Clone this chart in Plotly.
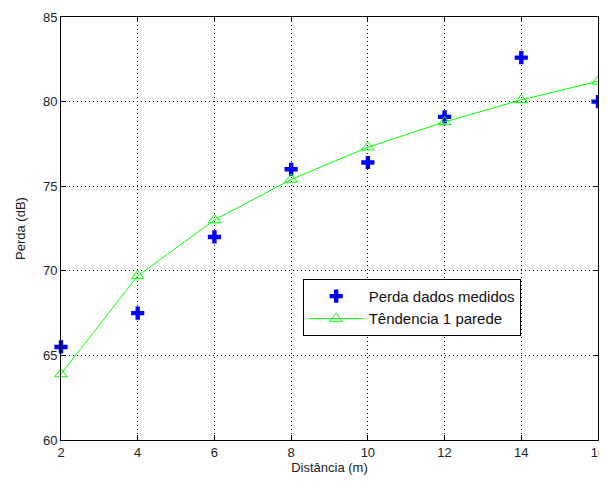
import plotly.graph_objects as go

distancia = [2, 4, 6, 8, 10, 12, 14, 16]
perda_medida = [65.5, 67.5, 72.0, 76.0, 76.4, 79.1, 82.6, 80.0]
tendencia = [63.9, 69.7, 73.0, 75.4, 77.3, 78.8, 80.1, 81.2]
x_ticks = [2, 4, 6, 8, 10, 12, 14, 16]
y_ticks = [60, 65, 70, 75, 80, 85]

FONT = "Liberation Sans, Arial"

fig = go.Figure()
fig.add_trace(go.Scatter(
    x=distancia, y=perda_medida, mode="markers", name="Perda dados medidos",
    marker=dict(symbol="cross", size=11, color="#0000ff", line=dict(width=0)),
    cliponaxis=False,
))
fig.add_trace(go.Scatter(
    x=distancia, y=tendencia, mode="lines+markers", name="Têndencia 1 parede",
    line=dict(color="#00ff00", width=1),
    marker=dict(symbol="triangle-up-open", size=11, color="#00ff00", line=dict(width=1)),
    cliponaxis=False,
))

axis_common = dict(
    showgrid=True, gridcolor="black", griddash="1px,3px", gridwidth=1,
    showline=True, linecolor="black", linewidth=1, mirror="ticks",
    ticks="inside", ticklen=5, tickcolor="black",
    zeroline=False, tickfont=dict(family=FONT, size=13, color="#222222"),
)
fig.update_xaxes(range=[2, 16], tickvals=x_ticks, **axis_common,
                 title=dict(text="Distância (m)", font=dict(family=FONT, size=13, color="#222222"), standoff=3))
fig.update_yaxes(range=[60, 85], tickvals=y_ticks, **axis_common,
                 title=dict(text="Perda (dB)", font=dict(family=FONT, size=13, color="#222222"), standoff=14))

fig.update_layout(
    width=607, height=486,
    margin=dict(l=53, r=17, t=9, b=54, autoexpand=False),
    paper_bgcolor="white", plot_bgcolor="white",
    font=dict(family=FONT, size=13, color="#222222"),
    showlegend=True,
    legend=dict(x=0.45, y=0.381, xanchor="left", yanchor="top",
                bgcolor="white", bordercolor="black", borderwidth=1,
                itemwidth=55,
                font=dict(family=FONT, size=15, color="#111111"), tracegroupgap=0),
)
fig.write_html("out.html")
